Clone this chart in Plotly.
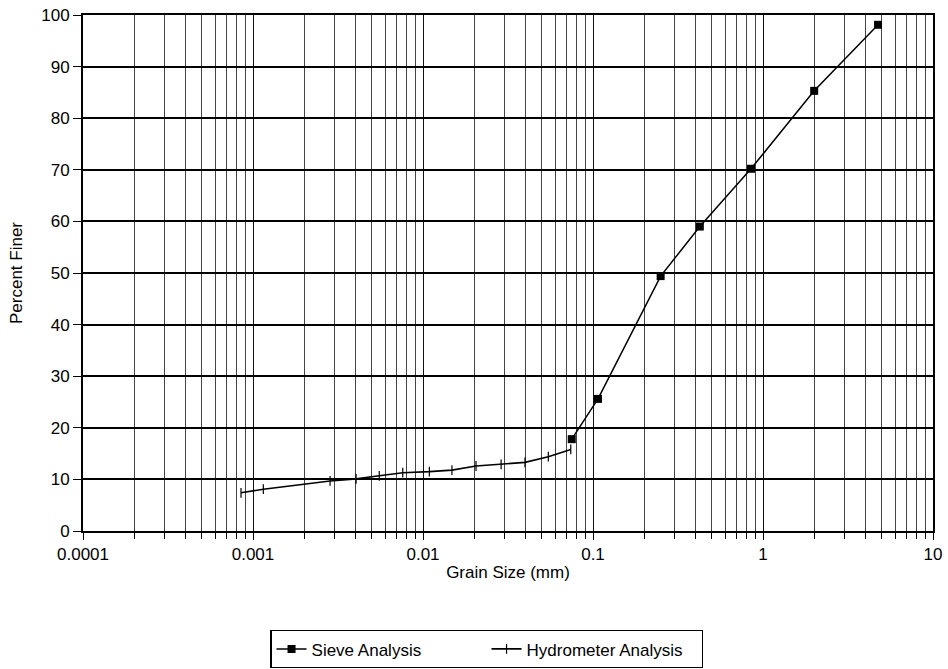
import plotly.graph_objects as go

sieve_size = [0.075, 0.107, 0.25, 0.425, 0.85, 2.0, 4.75]
sieve_pct = [17.8, 25.6, 49.4, 59.0, 70.2, 85.3, 98.1]

hydro_size = [0.00085, 0.00115, 0.00284, 0.00404, 0.00553, 0.0076, 0.0109,
              0.0148, 0.0205, 0.0288, 0.0398, 0.0546, 0.074]
hydro_pct = [7.4, 8.1, 9.7, 10.1, 10.7, 11.3, 11.5, 11.8, 12.6, 12.9, 13.3, 14.4, 15.8]

x_tickvals = [0.0001, 0.001, 0.01, 0.1, 1, 10]
x_ticktext = ["0.0001", "0.001", "0.01", "0.1", "1", "10"]
y_tickvals = list(range(0, 101, 10))

fig = go.Figure()
fig.add_trace(go.Scatter(
    x=sieve_size, y=sieve_pct, mode="lines+markers", name="Sieve Analysis",
    line=dict(color="black", width=1.5),
    marker=dict(symbol="square", size=8, color="black"),
))
fig.add_trace(go.Scatter(
    x=hydro_size, y=hydro_pct, mode="lines+markers", name="Hydrometer Analysis",
    line=dict(color="black", width=1.6),
    marker=dict(symbol="line-ns-open", size=7, color="black", line=dict(width=1.2, color="black")),
))

fig.update_layout(
    width=948, height=669,
    margin=dict(l=83, r=15, t=15, b=138, autoexpand=False),
    paper_bgcolor="white", plot_bgcolor="white",
    font=dict(family="Liberation Sans, Arial, sans-serif", size=17, color="black"),
    showlegend=True,
    legend=dict(
        orientation="h", x=0.475, xanchor="center", y=-0.192, yanchor="top",
        bordercolor="black", borderwidth=1.3, bgcolor="white",
        font=dict(size=17), entrywidth=170,
    ),
)
fig.update_xaxes(
    type="log", range=[-4, 1], automargin=False,
    tickvals=x_tickvals, ticktext=x_ticktext,
    ticks="outside", ticklen=7, tickcolor="black",
    showline=True, linecolor="black", linewidth=2, mirror=True,
    showgrid=True, gridcolor="#111", gridwidth=1,
    minor=dict(dtick="D1", ticks="outside", ticklen=6, tickcolor="black",
               showgrid=True, gridcolor="#444", gridwidth=1),
    title=dict(text="Grain Size (mm)", font=dict(size=17), standoff=3),
    tickfont=dict(size=17),
    zeroline=False,
)
fig.update_yaxes(
    range=[0, 100], tickvals=y_tickvals, automargin=False,
    ticks="outside", ticklen=8, tickcolor="black",
    showline=True, linecolor="black", linewidth=2, mirror=True,
    showgrid=True, gridcolor="black", gridwidth=1.6,
    title=dict(text="Percent Finer", font=dict(size=17), standoff=14),
    tickfont=dict(size=17),
    zeroline=False,
)

fig.write_html("out.html")
